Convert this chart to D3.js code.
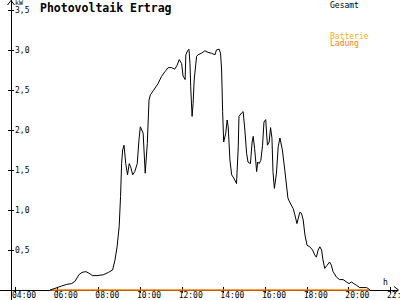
<!DOCTYPE html>
<html>
<head>
<meta charset="utf-8">
<script src="https://cdn.jsdelivr.net/npm/d3@7"></script>
<style>
  body { margin: 0; background: #fff; }
  text { font-family: "DejaVu Sans Mono", monospace; }
</style>
</head>
<body>
<div id="chart"></div>
<script>
// PV output (kW) over the day
var gesamtTime = ["05:41","05:55","06:14","06:29","06:43","06:53","07:04","07:13","07:24","07:33","07:43","07:56","08:14","08:29","08:41","08:48","08:54","09:00","09:04","09:07","09:10","09:14","09:19","09:24","09:29","09:33","09:39","09:45","09:52","09:57","10:01","10:09","10:15","10:21","10:26","10:30","10:38","10:52","11:02","11:12","11:21","11:31","11:40","11:47","11:53","12:00","12:04","12:10","12:12","12:17","12:21","12:24","12:26","12:30","12:33","12:36","12:43","12:47","12:57","13:07","13:16","13:26","13:36","13:40","13:48","13:52","13:55","13:58","14:01","14:07","14:11","14:14","14:19","14:24","14:30","14:38","14:43","14:45","14:52","14:57","15:02","15:07","15:11","15:18","15:23","15:26","15:30","15:36","15:39","15:43","15:48","15:53","15:57","16:02","16:07","16:12","16:16","16:20","16:23","16:27","16:33","16:38","16:43","16:50","16:57","17:06","17:11","17:21","17:26","17:32","17:40","17:45","17:50","17:55","18:01","18:09","18:17","18:23","18:28","18:33","18:38","18:43","18:47","18:52","18:59","19:06","19:11","19:16","19:26","19:35","19:45","19:55","20:02","20:09","20:16","20:23","20:33","20:52","20:57","21:02"];
var gesamtKw = [0,0.02,0.05,0.07,0.08,0.11,0.19,0.22,0.23,0.21,0.18,0.18,0.19,0.22,0.25,0.375,0.54,0.79,1.17,1.58,1.75,1.81,1.58,1.44,1.58,1.54,1.44,1.48,1.58,1.875,2.04,1.96,1.46,1.83,2.375,2.44,2.49,2.58,2.67,2.73,2.78,2.78,2.76,2.81,2.88,2.83,2.675,2.63,2.94,2.99,3.01,2.83,2.54,2.17,2.33,2.625,2.92,2.94,2.96,2.99,2.97,2.96,2.94,3.0,3.01,2.96,2.75,2.23,1.85,1.96,2.125,2.04,1.625,1.44,1.40,1.33,1.79,2.17,2.21,2.23,2.0,1.71,1.60,1.58,1.85,1.92,1.77,1.48,1.60,1.58,1.62,1.81,2.10,2.13,1.81,1.85,2.03,1.90,1.48,1.27,1.46,1.79,1.90,1.75,1.50,1.15,1.10,1.02,0.94,0.83,0.97,0.96,0.875,0.69,0.56,0.54,0.50,0.44,0.41,0.50,0.54,0.50,0.375,0.27,0.31,0.35,0.31,0.23,0.16,0.13,0.13,0.10,0.08,0.10,0.08,0.06,0.03,0.03,0.02,0];

// battery charging stays at zero
var ladungTime = ["05:41","21:02"];
var ladungKw = [0, 0];

var xTicks = [4, 6, 8, 10, 12, 14, 16, 18, 20, 22];
var yTicks = [0.5, 1.0, 1.5, 2.0, 2.5, 3.0, 3.5];

var svgWidth = 400;
var svgHeight = 300;

var svg = d3.select("#chart")
  .append("svg")
  .attr("width", svgWidth)
  .attr("height", svgHeight);

function toHours(s) {
  var p = s.split(":");
  return +p[0] + (+p[1]) / 60;
}

var gesamt = gesamtTime.map((t, i) => ({ t: toHours(t), v: gesamtKw[i] }));
var ladung = ladungTime.map((t, i) => ({ t: toHours(t), v: ladungKw[i] }));

var xScale = d3.scaleLinear().domain([4, 22]).range([15, 390]);
var yScale = d3.scaleLinear().domain([0, 3.5]).range([290, 10]);

// axis lines with arrows
svg.append("line")
  .attr("x1", 11).attr("x2", 11).attr("y1", 0).attr("y2", 300)
  .attr("stroke", "#000").attr("shape-rendering", "crispEdges");
svg.append("line")
  .attr("x1", 0).attr("x2", 398).attr("y1", 290).attr("y2", 290)
  .attr("stroke", "#000").attr("shape-rendering", "crispEdges");
svg.append("polyline")
  .attr("points", "7.5,5 11,0.5 14.5,5")
  .attr("fill", "none").attr("stroke", "#000");
svg.append("polyline")
  .attr("points", "394,286.5 398.5,290 394,293.5")
  .attr("fill", "none").attr("stroke", "#000");

// x axis ticks
var bottomAxis = d3.axisBottom(xScale)
  .tickValues(xTicks)
  .tickSize(3)
  .tickFormat(d => d3.format("02")(d) + ":00");

var xAxis = svg.append("g")
  .attr("transform", "translate(0, 290)")
  .call(bottomAxis);
xAxis.select(".domain").remove();
xAxis.selectAll("line").attr("y1", -3).attr("y2", 3).attr("shape-rendering", "crispEdges");
xAxis.selectAll("text")
  .attr("text-anchor", "start")
  .attr("x", -3.5)
  .attr("y", 7.5)
  .attr("dy", 0)
  .attr("font-size", 8)
  .attr("font-family", "DejaVu Sans Mono")
  .attr("fill", "#000");

// y axis ticks, labels right of the axis
var rightAxis = d3.axisRight(yScale)
  .tickValues(yTicks)
  .tickSize(3)
  .tickFormat(d => d3.format(".1f")(d).replace(".", ","));

var yAxis = svg.append("g")
  .attr("transform", "translate(11, 0)")
  .call(rightAxis);
yAxis.select(".domain").remove();
yAxis.selectAll("line").attr("x1", -3).attr("x2", 3).attr("shape-rendering", "crispEdges");
yAxis.selectAll("text")
  .attr("x", 4)
  .attr("font-size", 8)
  .attr("font-family", "DejaVu Sans Mono")
  .attr("fill", "#000");

// series lines
var line = d3.line()
  .x(d => xScale(d.t))
  .y(d => yScale(d.v));

svg.append("path")
  .datum(ladung)
  .attr("d", line)
  .attr("fill", "none")
  .attr("stroke", "#ff8000")
  .attr("stroke-width", 1.5);

svg.append("path")
  .datum(gesamt)
  .attr("d", line)
  .attr("fill", "none")
  .attr("stroke", "#000")
  .attr("stroke-width", 1);

// labels
svg.append("text")
  .attr("x", 15).attr("y", 5)
  .attr("font-size", 6.5)
  .text("kW");

svg.append("text")
  .attr("x", 383).attr("y", 285)
  .attr("font-size", 8)
  .text("h");

svg.append("text")
  .attr("x", 40).attr("y", 11.5)
  .attr("font-size", 11.5)
  .attr("font-weight", "bold")
  .text("Photovoltaik Ertrag");

// legend
svg.append("text")
  .attr("x", 330).attr("y", 7.5)
  .attr("font-size", 8)
  .attr("fill", "#000")
  .text("Gesamt");
svg.append("text")
  .attr("x", 330).attr("y", 38.5)
  .attr("font-size", 8)
  .attr("fill", "#ffb000")
  .text("Batterie");
svg.append("text")
  .attr("x", 330).attr("y", 46)
  .attr("font-size", 8)
  .attr("fill", "#ff8000")
  .text("Ladung");
</script>
</body>
</html>
